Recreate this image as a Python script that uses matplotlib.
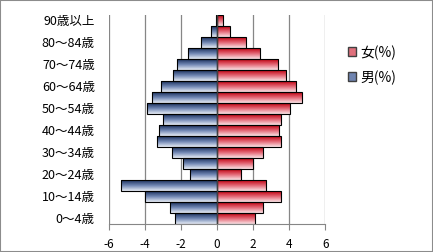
import matplotlib
matplotlib.use('Agg')
import matplotlib.pyplot as plt
import numpy as np
from matplotlib.colors import LinearSegmentedColormap
from matplotlib.patches import Patch, Rectangle

plt.rcParams['font.family'] = ['Noto Sans CJK JP', 'DejaVu Sans']

# age groups, bottom to top
ages = ['0～4歳', '5～9歳', '10～14歳', '15～19歳', '20～24歳', '25～29歳',
        '30～34歳', '35～39歳', '40～44歳', '45～49歳', '50～54歳', '55～59歳',
        '60～64歳', '65～69歳', '70～74歳', '75～79歳', '80～84歳', '85～89歳',
        '90歳以上']
female = [2.09, 2.53, 3.53, 2.72, 1.31, 1.98, 2.53, 3.53, 3.42, 3.57,
          4.04, 4.70, 4.39, 3.83, 3.39, 2.37, 1.59, 0.70, 0.33]
male = [2.30, 2.63, 3.98, 5.30, 1.52, 1.86, 2.47, 3.30, 3.19, 2.97,
        3.86, 3.58, 3.13, 2.41, 2.22, 1.58, 0.91, 0.33, 0.08]
xticks = [-6, -4, -2, 0, 2, 4, 6]

red_cm = LinearSegmentedColormap.from_list('r', ['#c00010', '#e46a78', '#fbe4e7'])
blue_cm = LinearSegmentedColormap.from_list('b', ['#1a2f5c', '#7288b4', '#e8edf6'])
grad = np.linspace(0, 1, 64).reshape(-1, 1)

fig = plt.figure(figsize=(4.33, 2.52), dpi=100)
ax = fig.add_axes([108.7/433, 1-224/252, (325.3-108.7)/433, (224-15)/252])

y = np.arange(len(ages))
h = 0.94
for yi, f, m in zip(y, female, male):
    ax.imshow(grad, extent=[0, f, yi-h/2, yi+h/2], cmap=red_cm, aspect='auto', zorder=2)
    ax.imshow(grad, extent=[-m, 0, yi-h/2, yi+h/2], cmap=blue_cm, aspect='auto', zorder=2)
ax.barh(y, female, height=h, color='none', edgecolor='black', lw=0.8, zorder=3)
ax.barh(y, [-v for v in male], height=h, color='none', edgecolor='black', lw=0.8, zorder=3)

ax.set_xlim(-6, 6)
ax.set_ylim(-0.5, len(ages)-0.5)
ax.set_xticks(xticks)
ax.set_xticklabels([str(v) for v in xticks], fontsize=8.5)
ax.set_yticks(y[::2])
ax.set_yticklabels(ages[::2], fontsize=9)
ax.tick_params(axis='y', length=0, pad=10)
ax.tick_params(axis='x', length=4, color='#868686', pad=6)

for v in xticks:
    if v != 0:
        ax.axvline(v, color='#868686', lw=0.9, zorder=1)
ax.axvline(0, color='#404040', lw=1.0, zorder=4)
for s in ['top', 'right', 'left']:
    ax.spines[s].set_visible(False)
ax.spines['bottom'].set_color('#868686')

handles = [Patch(facecolor='#e0707c', edgecolor='#404040', label='女(%)'),
           Patch(facecolor='#6f84b0', edgecolor='#404040', label='男(%)')]
fig.legend(handles=handles, loc='center left', bbox_to_anchor=(335/433, 1-65/252),
           frameon=False, fontsize=10, handlelength=0.6, handleheight=0.6,
           handletextpad=0.3, labelspacing=0.75)

fig.patches.append(Rectangle((0, 0), 1, 1, transform=fig.transFigure, fill=False,
                             edgecolor='#8c8c8c', lw=1.5))

fig.savefig('out.png', dpi=100)
